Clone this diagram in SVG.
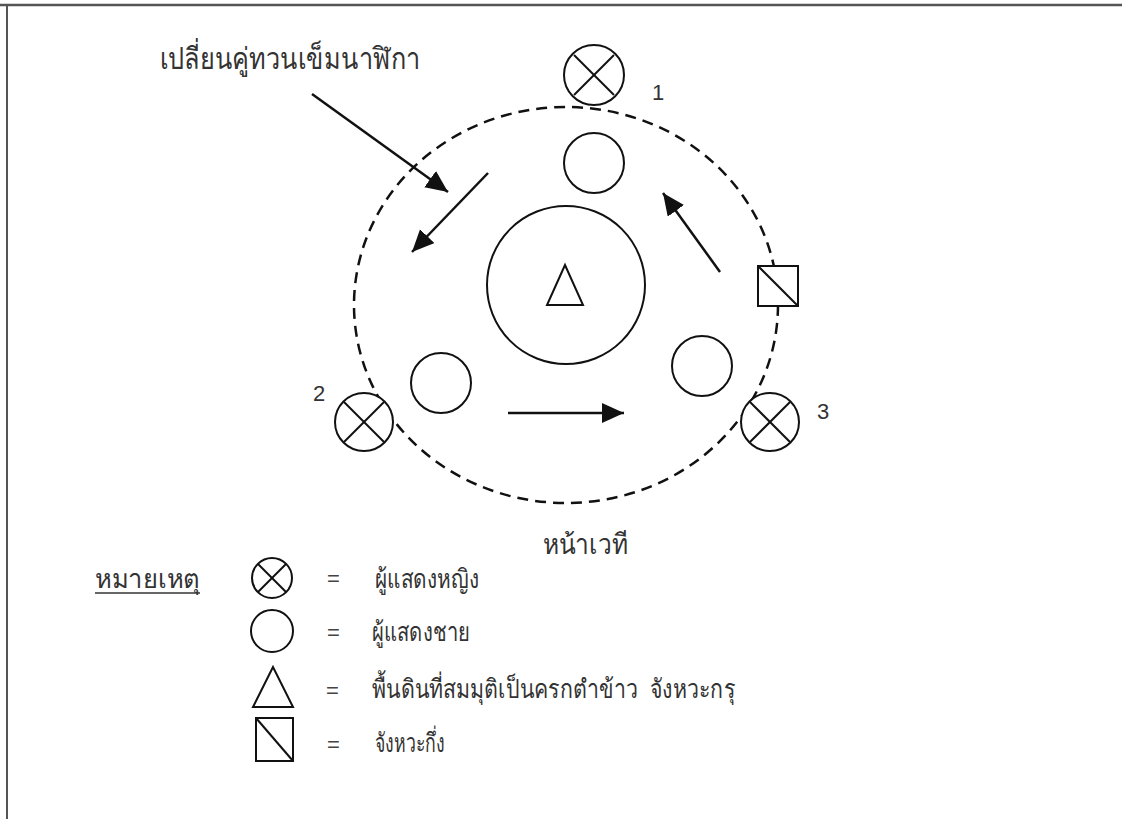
<svg xmlns="http://www.w3.org/2000/svg" width="1122" height="819" viewBox="0 0 1122 819">
<style>
.sym{fill:#fff;stroke:#111;stroke-width:2}
.ln{stroke:#111;stroke-width:2;fill:none}
.arr{stroke:#111;stroke-width:2.5;fill:none;marker-end:url(#ah)}
.t{font-family:"Noto Sans","DejaVu Sans",sans-serif;font-weight:300;fill:#333}
.n{font-family:"Liberation Sans",Arial,sans-serif;fill:#333;font-size:22px}
.eq{font-family:"Liberation Sans",Arial,sans-serif;fill:#444;font-size:22px}
</style>
<defs>
<marker id="ah" markerUnits="userSpaceOnUse" markerWidth="24" markerHeight="22" refX="22" refY="10" orient="auto" viewBox="0 0 24 22">
<path d="M0,0 L22,10 L0,20 z" fill="#111"/>
</marker>
</defs>
<rect x="0" y="0" width="1122" height="819" fill="#fff"/>
<g id="frame">
<line x1="0" y1="5" x2="1122" y2="5" stroke="#555" stroke-width="2.5"/>
<line x1="7" y1="5" x2="7" y2="819" stroke="#555" stroke-width="2"/>
</g>
<g id="stage-path">
<ellipse cx="566" cy="305" rx="212" ry="198" fill="none" stroke="#111" stroke-width="2.5" stroke-dasharray="11 7"/>
</g>
<g id="center-mortar">
<circle class="sym" cx="566" cy="285" r="79"/>
<polygon class="sym" points="565,265 547,305 583,305"/>
</g>
<g id="woman-1">
<circle class="sym" cx="594" cy="75" r="30"/>
<line class="ln" x1="574" y1="55" x2="614" y2="95"/>
<line class="ln" x1="614" y1="55" x2="574" y2="95"/>
<text class="n" x="652" y="100">1</text>
</g>
<g id="woman-2">
<circle class="sym" cx="364" cy="422" r="29"/>
<line class="ln" x1="344" y1="402" x2="384" y2="442"/>
<line class="ln" x1="384" y1="402" x2="344" y2="442"/>
<text class="n" x="313" y="401">2</text>
</g>
<g id="woman-3">
<circle class="sym" cx="770" cy="422" r="29"/>
<line class="ln" x1="750" y1="402" x2="790" y2="442"/>
<line class="ln" x1="790" y1="402" x2="750" y2="442"/>
<text class="n" x="817" y="419">3</text>
</g>
<g id="man-1"><circle class="sym" cx="594" cy="163" r="30"/></g>
<g id="man-2"><circle class="sym" cx="441" cy="383" r="30"/></g>
<g id="man-3"><circle class="sym" cx="702" cy="366" r="30"/></g>
<g id="half-beat">
<rect class="sym" x="758" y="266" width="40" height="40"/>
<line class="ln" x1="758" y1="266" x2="798" y2="306"/>
</g>
<g id="connectors">
<line class="arr" x1="312" y1="94" x2="448" y2="192"/>
<line class="arr" x1="488" y1="173" x2="412" y2="252"/>
<line class="arr" x1="720" y1="272" x2="663" y2="193"/>
<line class="arr" x1="508" y1="413" x2="624" y2="413"/>
</g>
<g id="label-ccw">
<text class="t" x="160" y="69" font-size="30" textLength="260" lengthAdjust="spacingAndGlyphs">เปลี่ยนคู่ทวนเข็มนาฬิกา</text>
</g>
<g id="label-front">
<text class="t" x="543" y="554" font-size="28" textLength="85" lengthAdjust="spacingAndGlyphs">หน้าเวที</text>
</g>
<g id="legend">
<text class="t" x="95" y="588" font-size="26" textLength="105" lengthAdjust="spacingAndGlyphs">หมายเหตุ</text>
<line x1="95" y1="593" x2="200" y2="593" stroke="#333" stroke-width="1.5"/>
<circle class="sym" cx="272" cy="578" r="20"/>
<line class="ln" x1="258" y1="564" x2="286" y2="592"/>
<line class="ln" x1="286" y1="564" x2="258" y2="592"/>
<text class="eq" x="327" y="586">=</text>
<text class="t" x="375" y="588" font-size="26" textLength="104" lengthAdjust="spacingAndGlyphs">ผู้แสดงหญิง</text>
<circle class="sym" cx="272" cy="631" r="21"/>
<text class="eq" x="327" y="640">=</text>
<text class="t" x="372" y="641" font-size="26" textLength="98" lengthAdjust="spacingAndGlyphs">ผู้แสดงชาย</text>
<polygon class="sym" points="273,667 253,707 293,707"/>
<text class="eq" x="326" y="698">=</text>
<text class="t" x="372" y="698" font-size="26" textLength="363" lengthAdjust="spacingAndGlyphs" style="white-space:pre">พื้นดินที่สมมุติเป็นครกตำข้าว  จังหวะกรุ</text>
<rect class="sym" x="256" y="718" width="37" height="43"/>
<line class="ln" x1="256" y1="718" x2="293" y2="761"/>
<text class="eq" x="327" y="752">=</text>
<text class="t" x="375" y="752" font-size="26" textLength="70" lengthAdjust="spacingAndGlyphs">จังหวะกึ่ง</text>
</g>
</svg>
